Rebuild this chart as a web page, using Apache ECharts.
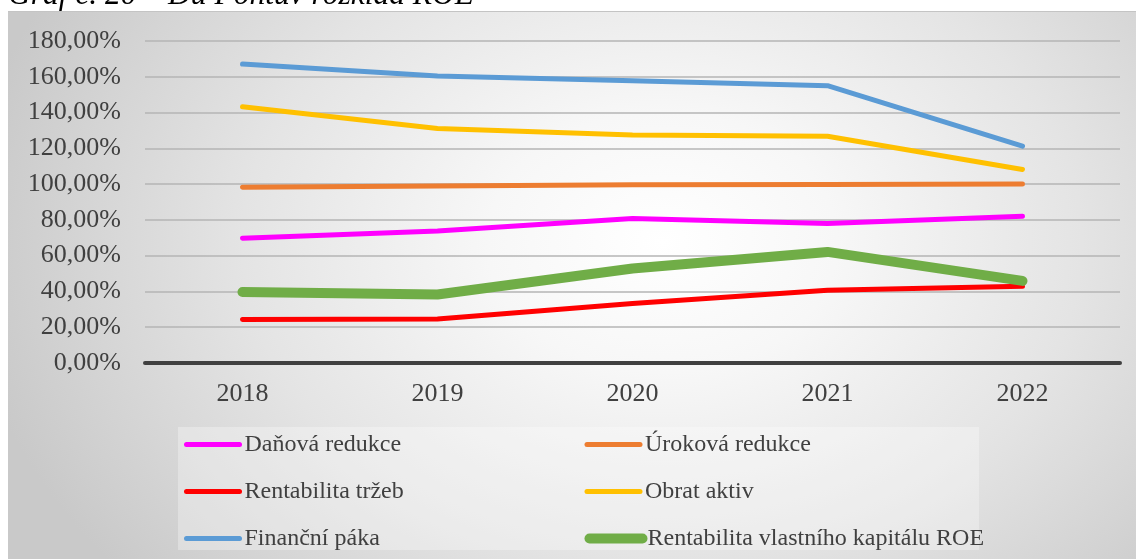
<!DOCTYPE html>
<html>
<head>
<meta charset="utf-8">
<script src="https://cdn.jsdelivr.net/npm/echarts@6/dist/echarts.min.js"></script>
<style>
  html, body { margin: 0; padding: 0; background: #fff; }
  #bg {
    position: absolute; left: 8px; top: 11px; width: 1128px; height: 548px;
    background: radial-gradient(ellipse 62% 95% at 58% 42%, #ffffff 0%, #f7f7f7 25%, #e4e4e4 60%, #c9c9c9 100%);
    border-top: 1px solid #c4c4c4;
  }
  #chart { position: absolute; left: 0; top: 0; width: 1136px; height: 559px; }
</style>
</head>
<body>
<div id="bg"></div>
<div id="chart"></div>
<script>
// roky a hodnoty v %
const years = ["2018", "2019", "2020", "2021", "2022"];
const danovaRedukce = [69.8, 73.8, 80.8, 78.0, 82.1];
const urokovaRedukce = [98.3, 99.0, 99.6, 99.8, 100.0];
const rentabilitaTrzeb = [24.3, 24.6, 33.2, 40.7, 42.9];
const obratAktiv = [143.2, 131.1, 127.4, 126.8, 108.2];
const financniPaka = [167.1, 160.4, 157.8, 155.0, 121.2];
const roe = [39.7, 38.3, 52.8, 62.1, 45.9];

const serif = "'Liberation Serif', 'Times New Roman', serif";

function line(name, data, color, width) {
  return {
    name: name,
    type: "line",
    data: data,
    symbol: "none",
    lineStyle: { color: color, width: width, cap: "round", join: "round" },
    itemStyle: { color: color },
    emphasis: { disabled: true },
  };
}

const chart = echarts.init(document.getElementById("chart"));
chart.setOption({
  animation: false,
  textStyle: { fontFamily: serif },
  grid: { left: 145, right: 16, top: 41, bottom: 196 },
  graphic: [
    {
      type: "text",
      left: 8,
      top: -20,
      style: {
        text: "Graf č. 20 – Du Pontův rozklad ROE",
        font: "italic 31.5px " + serif,
        fill: "#000",
      },
    },
    {
      type: "rect",
      shape: { x: 178, y: 427, width: 801, height: 123 },
      style: { fill: "rgba(255,255,255,0.3)" },
      z: -1,
    },
  ],
  legend: {
    left: 184,
    top: 426,
    width: 820,
    padding: 0,
    itemWidth: 53,
    itemHeight: 14,
    itemGap: 10,
    lineStyle: { width: "inherit", cap: "round" },
    itemStyle: { opacity: 0 },
    textStyle: {
      fontFamily: serif,
      fontSize: 24,
      color: "#404040",
      width: 330,
      lineHeight: 37,
    },
    data: [
      "Daňová redukce",
      "Úroková redukce",
      "Rentabilita tržeb",
      "Obrat aktiv",
      "Finanční páka",
      "Rentabilita vlastního kapitálu ROE",
    ],
  },
  xAxis: {
    type: "category",
    data: years,
    axisLine: { lineStyle: { color: "#404040", width: 4 } },
    axisTick: { show: false },
    axisLabel: { color: "#404040", fontSize: 26, fontFamily: serif, margin: 18 },
  },
  yAxis: {
    type: "value",
    min: 0,
    max: 180,
    interval: 20,
    axisLabel: {
      color: "#404040",
      fontSize: 26,
      fontFamily: serif,
      margin: 24,
      formatter: (v) => v.toFixed(2).replace(".", ",") + "%",
    },
    splitLine: { lineStyle: { color: "#b4b4b4", width: 1.5 } },
  },
  series: [
    line("Daňová redukce", danovaRedukce, "#ff00ff", 5),
    line("Úroková redukce", urokovaRedukce, "#ed7d31", 5),
    line("Rentabilita tržeb", rentabilitaTrzeb, "#ff0000", 5),
    line("Obrat aktiv", obratAktiv, "#ffc000", 5),
    line("Finanční páka", financniPaka, "#5b9bd5", 5),
    line("Rentabilita vlastního kapitálu ROE", roe, "#70ad47", 10),
  ],
});
</script>
</body>
</html>
